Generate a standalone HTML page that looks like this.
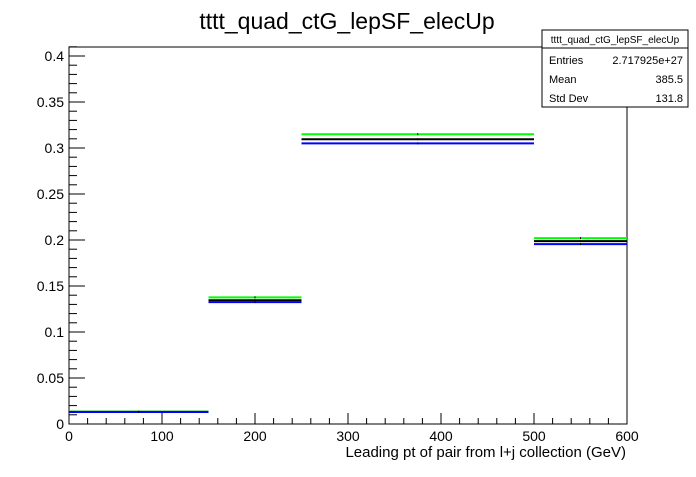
<!DOCTYPE html>
<html><head><meta charset="utf-8"><style>
body{margin:0;background:#fff;}
svg text{font-family:"Liberation Sans",Arial,sans-serif;}
</style></head><body>
<svg id="c" width="696" height="472" xmlns="http://www.w3.org/2000/svg">
<text x="347" y="29" font-size="23" text-anchor="middle">tttt_quad_ctG_lepSF_elecUp</text>
<rect x="69" y="47" width="558" height="377" fill="none" stroke="#000"/>
<g id="axes"></g>
<g id="series"></g>
<text x="626" y="457" font-size="15" text-anchor="end">Leading pt of pair from l+j collection (GeV)</text>
<g>
<rect x="542" y="30" width="146" height="77" fill="#fff" stroke="#000"/>
<line x1="542" y1="48" x2="688" y2="48" stroke="#000"/>
<text x="615" y="43" font-size="10" text-anchor="middle">tttt_quad_ctG_lepSF_elecUp</text>
<text x="549" y="64" font-size="11">Entries</text>
<text x="683" y="64" font-size="11" text-anchor="end">2.717925e+27</text>
<text x="549" y="83" font-size="11">Mean</text>
<text x="683" y="83" font-size="11" text-anchor="end">385.5</text>
<text x="549" y="102" font-size="11">Std Dev</text>
<text x="683" y="102" font-size="11" text-anchor="end">131.8</text>
</g>
</svg>
<script>
const binEdges=[0,150,250,500,600];
const greenVals=[0.0135,0.1377,0.315,0.202];
const blackVals=[0.0132,0.1345,0.3095,0.1988];
const blueVals=[0.013,0.1325,0.305,0.1955];
const xTicks=[0,100,200,300,400,500,600];
const yTicks=[0,0.05,0.1,0.15,0.2,0.25,0.3,0.35,0.4];
const yTickLabels=["0","0.05","0.1","0.15","0.2","0.25","0.3","0.35","0.4"];
const NS="http://www.w3.org/2000/svg";
const X=v=>69+v*(558/600);
const Y=v=>424-v*920;
const axes=document.getElementById('axes'),ser=document.getElementById('series');
function mk(p,tag,a){const e=document.createElementNS(NS,tag);for(const k in a)e.setAttribute(k,a[k]);p.appendChild(e);return e;}
for(let v=0;v<=600;v+=20){const big=v%100===0;const l=mk(axes,'line',{x1:X(v),x2:X(v),y1:424,y2:424-(big?11:6),stroke:'#000'});

}
xTicks.forEach(v=>{const t=mk(axes,'text',{x:X(v),y:441,'font-size':14,'text-anchor':'middle'});t.textContent=v;

});
for(let i=0;i<=41;i++){const v=i*0.01;const big=i%5===0;const l=mk(axes,'line',{x1:69,x2:69+(big?16:8),y1:Y(v),y2:Y(v),stroke:'#000'});

}
yTicks.forEach((v,i)=>{const t=mk(axes,'text',{x:64,y:Y(v)+5,'font-size':14,'text-anchor':'end'});t.textContent=yTickLabels[i];

});
function draw(vals,color,name){vals.forEach((v,i)=>{const l=mk(ser,'line',{x1:X(binEdges[i]),x2:X(binEdges[i+1]),y1:Y(v),y2:Y(v),stroke:color,'stroke-width':2});


const cx=X((binEdges[i]+binEdges[i+1])/2);const d=mk(ser,'rect',{x:cx-0.5,y:Y(v)-1,width:1,height:2,fill:'#000'});

});}
draw(greenVals,'#00ff00','green-series');
draw(blackVals,'#000000','black-series');
draw(blueVals,'#0000ff','blue-series');
</script>
</body></html>
